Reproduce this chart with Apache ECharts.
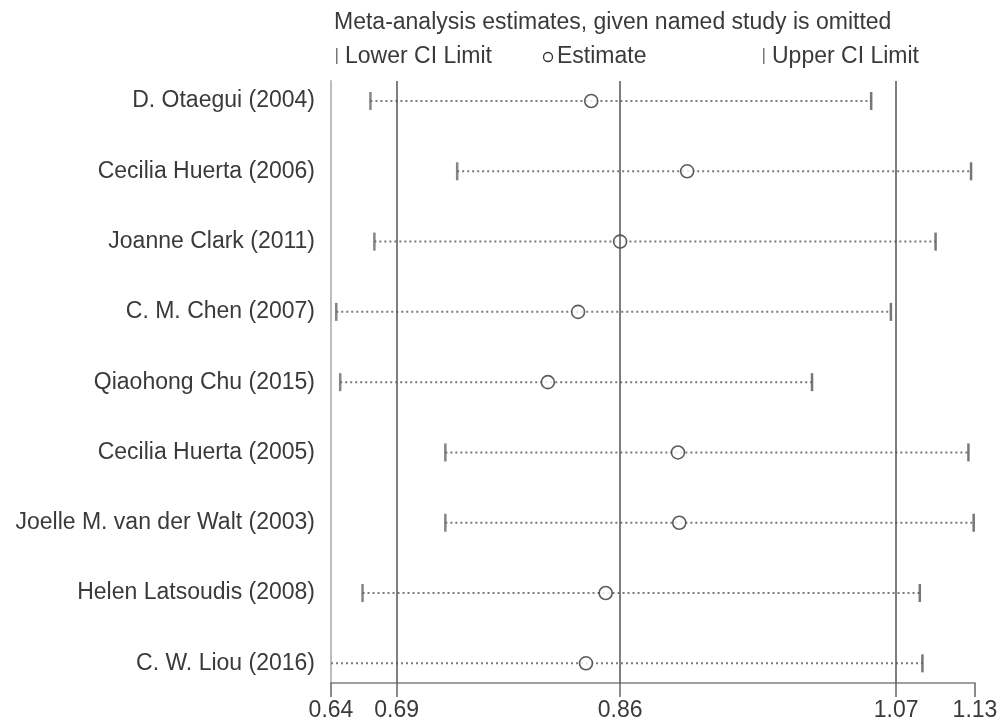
<!DOCTYPE html>
<html>
<head>
<meta charset="utf-8">
<script src="https://cdn.jsdelivr.net/npm/echarts@6/dist/echarts.min.js"></script>
<style>
html,body{margin:0;padding:0;background:#fff;}
#chart{width:1004px;height:722px;}
</style>
</head>
<body>
<div id="chart"></div>
<script>
const studies = [
  "D. Otaegui (2004)",
  "Cecilia Huerta (2006)",
  "Joanne Clark (2011)",
  "C. M. Chen (2007)",
  "Qiaohong Chu (2015)",
  "Cecilia Huerta (2005)",
  "Joelle M. van der Walt (2003)",
  "Helen Latsoudis (2008)",
  "C. W. Liou (2016)"
];
const lowerCI  = [0.670, 0.736, 0.673, 0.644, 0.647, 0.727, 0.727, 0.664, 0.635];
const estimate = [0.838, 0.911, 0.860, 0.828, 0.805, 0.904, 0.905, 0.849, 0.834];
const upperCI  = [1.051, 1.127, 1.100, 1.066, 1.006, 1.125, 1.129, 1.088, 1.090];
const xTicks = [0.64, 0.69, 0.86, 1.07, 1.13];
const refLines = [0.69, 0.86, 1.07];
const titleText = "Meta-analysis estimates, given named study is omitted";
const legendLabels = ["Lower CI Limit", "Estimate", "Upper CI Limit"];

const X_MIN = 0.64, X_MAX = 1.13;
const rows = studies.map((s, i) => i + 1);
const textColor = '#3a3a3a';
const FONT = 'Liberation Sans, Arial, sans-serif';
const FS = 23;

const chart = echarts.init(document.getElementById('chart'));
chart.setOption({
  animation: false,
  backgroundColor: '#fff',
  grid: { left: 331, right: 29, top: 81, bottom: 39 },
  xAxis: {
    type: 'value', min: X_MIN, max: X_MAX,
    axisLine: { show: true, lineStyle: { color: '#808080', width: 1.5 } },
    axisTick: { show: true, customValues: xTicks, length: 14, lineStyle: { color: '#666', width: 1.5 } },
    axisLabel: { customValues: xTicks, formatter: v => v.toFixed(2), fontSize: FS, color: textColor, fontFamily: FONT, margin: 16, showMinLabel: true, showMaxLabel: true },
    splitLine: { show: false }
  },
  yAxis: {
    type: 'value', min: 0.7155, max: 9.28, inverse: true,
    axisLine: { show: true, lineStyle: { color: '#bdbdbd', width: 2 } },
    axisTick: { show: false },
    splitLine: { show: false },
    axisLabel: { customValues: rows, formatter: v => studies[Math.round(v) - 1] || '', fontSize: FS, color: textColor, fontFamily: FONT, margin: 16 }
  },
  graphic: [
    { type: 'text', left: 334, top: 11, style: { text: titleText, fontSize: FS, fill: textColor, fontFamily: FONT } },
    { type: 'rect', shape: { x: 336, y: 48, width: 1.5, height: 16 }, style: { fill: '#777' } },
    { type: 'text', left: 345, top: 45, style: { text: legendLabels[0], fontSize: FS, fill: textColor, fontFamily: FONT } },
    { type: 'circle', shape: { cx: 548, cy: 57, r: 4.5 }, style: { fill: '#fff', stroke: '#333', lineWidth: 1.3 } },
    { type: 'text', left: 557, top: 45, style: { text: legendLabels[1], fontSize: FS, fill: textColor, fontFamily: FONT } },
    { type: 'rect', shape: { x: 763, y: 48, width: 1.5, height: 16 }, style: { fill: '#777' } },
    { type: 'text', left: 772, top: 45, style: { text: legendLabels[2], fontSize: FS, fill: textColor, fontFamily: FONT } }
  ],
  series: [
    {
      type: 'custom',
      name: 'CI',
      clip: true,
      data: rows.map((r, i) => [lowerCI[i], upperCI[i], r]),
      renderItem: function (params, api) {
        const lo = Math.max(api.value(0), X_MIN);
        const hi = Math.min(api.value(1), X_MAX);
        const a = api.coord([lo, api.value(2)]);
        const b = api.coord([hi, api.value(2)]);
        return {
          type: 'line',
          shape: { x1: a[0], y1: a[1], x2: b[0], y2: b[1] },
          style: { stroke: '#7a7a7a', lineWidth: 2, lineDash: [2, 3] }
        };
      },
      markLine: {
        silent: true, symbol: 'none', animation: false,
        label: { show: false },
        lineStyle: { color: '#555', width: 1.5, type: 'solid' },
        data: refLines.map(v => ({ xAxis: v }))
      }
    },
    {
      type: 'scatter', name: 'Lower CI Limit', clip: true,
      symbol: 'rect', symbolSize: [2.5, 18],
      itemStyle: { color: '#666' },
      data: rows.map((r, i) => [lowerCI[i], r])
    },
    {
      type: 'scatter', name: 'Upper CI Limit', clip: true,
      symbol: 'rect', symbolSize: [2.5, 18],
      itemStyle: { color: '#555' },
      data: rows.map((r, i) => [upperCI[i], r])
    },
    {
      type: 'scatter', name: 'Estimate', clip: true,
      symbol: 'circle', symbolSize: 13,
      itemStyle: { color: '#fff', borderColor: '#333', borderWidth: 1.6 },
      data: rows.map((r, i) => [estimate[i], r])
    }
  ]
});
</script>
</body>
</html>
